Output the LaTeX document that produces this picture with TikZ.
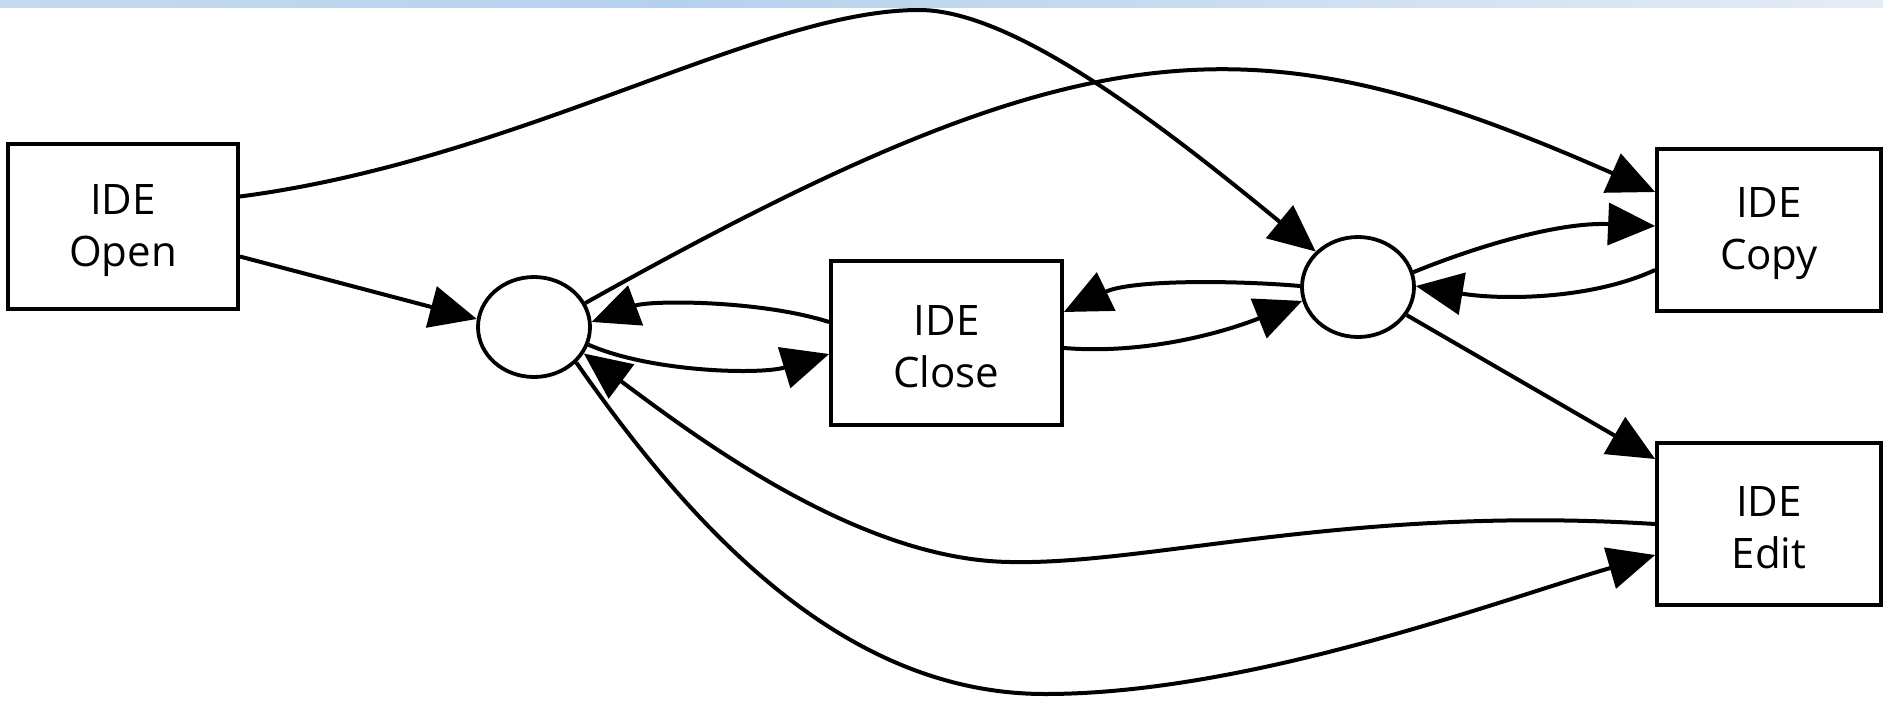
\documentclass[tikz,border=0pt]{standalone}
\usepackage{fontspec}
\setmainfont{Open Sans}
\usetikzlibrary{arrows.meta,shapes.geometric}
\definecolor{barA}{RGB}{197,218,240}
\definecolor{barB}{RGB}{180,209,236}
\definecolor{barC}{RGB}{228,236,246}
\newcommand{\boxtext}[2]{\rule{0pt}{38pt}#1\\#2}
\begin{document}
\begin{tikzpicture}[x=1pt,y=-1pt,
  box/.style={draw,line width=3.8pt,minimum width=230pt,minimum height=165pt,
    align=center,font=\fontsize{42}{52}\selectfont,inner sep=0pt},
  place/.style={draw,ellipse,line width=3.8pt,minimum width=112pt,
    minimum height=100pt,inner sep=0pt},
  conn/.style={line width=4pt,-{Triangle[length=47pt,width=42pt]}}]
\useasboundingbox (0,0) rectangle (1883,702);
\shade[left color=barA,right color=barB] (0,0) rectangle (670,7);
\shade[left color=barB,right color=barC] (670,0) rectangle (1883,7);

\node[box] (open) at (123,226.5) {\boxtext{IDE}{Open}};
\node[box,minimum width=231pt,minimum height=164pt] (close) at (946.5,343) {\boxtext{IDE}{Close}};
\node[box,minimum width=224pt,minimum height=162pt] (copy) at (1769,230) {\boxtext{IDE}{Copy}};
\node[box,minimum width=224pt,minimum height=162pt] (edit) at (1769,524) {\boxtext{IDE}{Edit}};
\node[place] (c1) at (534,327) {};
\node[place] (c2) at (1358,287) {};

% Open -> c2 (top arc)
\draw[conn] ([yshift=30pt]open.east) .. controls (520,160) and (760,10) .. (919,10)
  .. controls (1010,10) and (1150,115) .. (c2.140);
% Open -> c1
\draw[conn] ([yshift=-30pt]open.east) -- (c1.172);
% c1 -> Copy
\draw[conn] (c1.25) .. controls (1090,20) and (1255,16) .. ([yshift=38pt]copy.west);
% Close -> c1
\draw[conn] ([yshift=21pt]close.west) .. controls (760,300) and (650,300) .. (c1.5);
% c1 -> Close
\draw[conn] (c1.-18) .. controls (650,372) and (760,375) .. ([yshift=-11pt]close.west);
% Close -> c2
\draw[conn] ([yshift=-5pt]close.east) .. controls (1150,355) and (1230,330) .. (c2.-166);
% c2 -> Close
\draw[conn] (c2.179) .. controls (1230,280) and (1130,280) .. ([yshift=31pt]close.east);
% c2 -> Copy
\draw[conn] (c2.15) .. controls (1480,245) and (1560,222) .. ([yshift=4pt]copy.west);
% Copy -> c2
\draw[conn] ([yshift=-40pt]copy.west) .. controls (1590,300) and (1500,300) .. (c2.1);
% c2 -> Edit
\draw[conn] (c2.-30) -- ([yshift=65pt]edit.west);
% Edit -> c1
\draw[conn] (edit.west) .. controls (1350,505) and (1150,565) .. (1010,562)
  .. controls (860,560) and (700,440) .. (c1.-28);
% c1 -> Edit
\draw[conn] (c1.-40) .. controls (700,540) and (850,694) .. (1045,694)
  .. controls (1250,694) and (1500,600) .. ([yshift=-31pt]edit.west);
\end{tikzpicture}
\end{document}
